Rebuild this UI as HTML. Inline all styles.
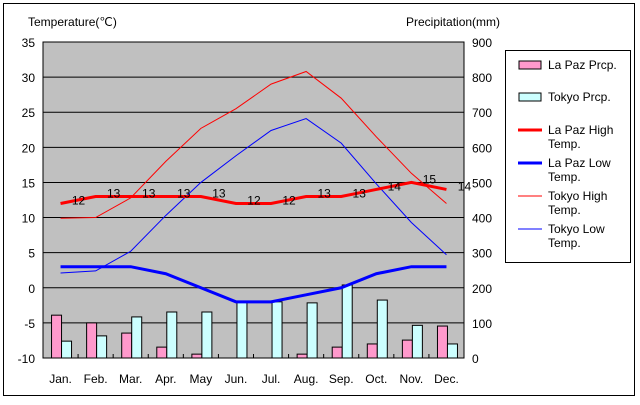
<!DOCTYPE html>
<html><head><meta charset="utf-8"><style>
body{margin:0;background:#fff;font-family:"Liberation Sans",sans-serif;}
svg text{font-family:"Liberation Sans",sans-serif;font-size:12px;fill:#000;}
</style></head><body>
<svg width="640" height="400" xmlns="http://www.w3.org/2000/svg">
<rect x="3.5" y="3.5" width="631" height="392" fill="#fff" stroke="#000"/>
<text x="28" y="26">Temperature(℃)</text>
<text x="406" y="26">Precipitation(mm)</text>
<rect x="43" y="42" width="421" height="316" fill="#c0c0c0" stroke="#000"/>
<g id="grid"></g><g id="bars"></g><g id="lines"></g><g id="axes"></g>
<g>
<rect x="505.5" y="50.5" width="125" height="212" fill="#fff" stroke="#000"/>
<rect x="519" y="61" width="22" height="8" fill="#ff99cc" stroke="#000"/>
<text x="548" y="69">La Paz Prcp.</text>
<rect x="519" y="93" width="22" height="8" fill="#ccffff" stroke="#000"/>
<text x="548" y="101">Tokyo Prcp.</text>
<line x1="518" y1="130" x2="542" y2="130" stroke="#ff0000" stroke-width="3"/>
<text x="548" y="134">La Paz High</text><text x="548" y="148">Temp.</text>
<line x1="518" y1="163" x2="542" y2="163" stroke="#0000ff" stroke-width="3"/>
<text x="548" y="167">La Paz Low</text><text x="548" y="181">Temp.</text>
<line x1="518" y1="196" x2="542" y2="196" stroke="#ff0000" stroke-width="1"/>
<text x="548" y="200">Tokyo High</text><text x="548" y="214">Temp.</text>
<line x1="518" y1="229" x2="542" y2="229" stroke="#0000ff" stroke-width="1"/>
<text x="548" y="233">Tokyo Low</text><text x="548" y="247">Temp.</text>
</g>
</svg>
<script>
const months=["Jan.","Feb.","Mar.","Apr.","May","Jun.","Jul.","Aug.","Sep.","Oct.","Nov.","Dec."];
const tempTicks=[35,30,25,20,15,10,5,0,-5,-10];
const precTicks=[900,800,700,600,500,400,300,200,100,0];
const lapazPrcp=[122,100,71,31,11,0,0,11,31,40,51,91];
const tokyoPrcp=[48,63,117,131,131,160,160,157,208,165,93,40];
const lapazHigh=[12,13,13,13,13,12,12,13,13,14,15,14];
const lapazLow=[3,3,3,2,0,-2,-2,-1,0,2,3,3];
const tokyoHigh=[9.9,10,12.8,18,22.7,25.5,29,30.8,27,21.5,16.3,12];
const tokyoLow=[2.1,2.4,5.2,10.3,15,18.8,22.4,24.1,20.6,14.8,9.3,4.7];
const NS="http://www.w3.org/2000/svg";
const X0=43,W=421,Y0=42,H=316,slot=W/12;
function xC(i){return X0+slot*(i+0.5);}
function yT(t){return Y0+(35-t)/45*H;}
function yP(p){return Y0+(900-p)/900*H;}
function mk(tag,attrs,parent,text){const e=document.createElementNS(NS,tag);for(const k in attrs)e.setAttribute(k,attrs[k]);if(text!==undefined)e.textContent=text;document.getElementById(parent).appendChild(e);return e;}
tempTicks.forEach((t,i)=>{
 const y=yT(t);
 if(t>-10&&t<35){const l=mk('line',{x1:X0,x2:X0+W,y1:y,y2:y,stroke:'#000'},'grid');}
 const a=mk('text',{x:35,y:y+5,'text-anchor':'end'},'axes',t);
 const b=mk('text',{x:472,y:y+5},'axes',precTicks[i]);
});
months.forEach((m,i)=>{
 const c=xC(i);
 const t=mk('text',{x:c,y:383,'text-anchor':'middle'},'axes',m);
 if(i>0){const tk=mk('line',{x1:X0+slot*i,x2:X0+slot*i,y1:H+Y0-4,y2:H+Y0,stroke:'#000'},'axes');}
 if(lapazPrcp[i]>0){const r=mk('rect',{x:c-9,y:yP(lapazPrcp[i]),width:10,height:yP(0)-yP(lapazPrcp[i]),fill:'#ff99cc',stroke:'#000'},'bars');}
 const r2=mk('rect',{x:c+1,y:yP(tokyoPrcp[i]),width:10,height:yP(0)-yP(tokyoPrcp[i]),fill:'#ccffff',stroke:'#000'},'bars');
});
function line(arr,color,w,name){const p=arr.map((v,i)=>xC(i)+','+yT(v)).join(' ');const l=mk('polyline',{points:p,fill:'none',stroke:color,'stroke-width':w},'lines');}
line(tokyoHigh,'#ff0000',1,'line-tokyo-high');
line(tokyoLow,'#0000ff',1,'line-tokyo-low');
line(lapazHigh,'#ff0000',3,'line-lapaz-high');
line(lapazLow,'#0000ff',3,'line-lapaz-low');
lapazHigh.forEach((v,i)=>{const t=mk('text',{x:xC(i)+18,y:yT(v)+1,'text-anchor':'middle','font-size':'14'},'lines',v);});
</script>
</body></html>
